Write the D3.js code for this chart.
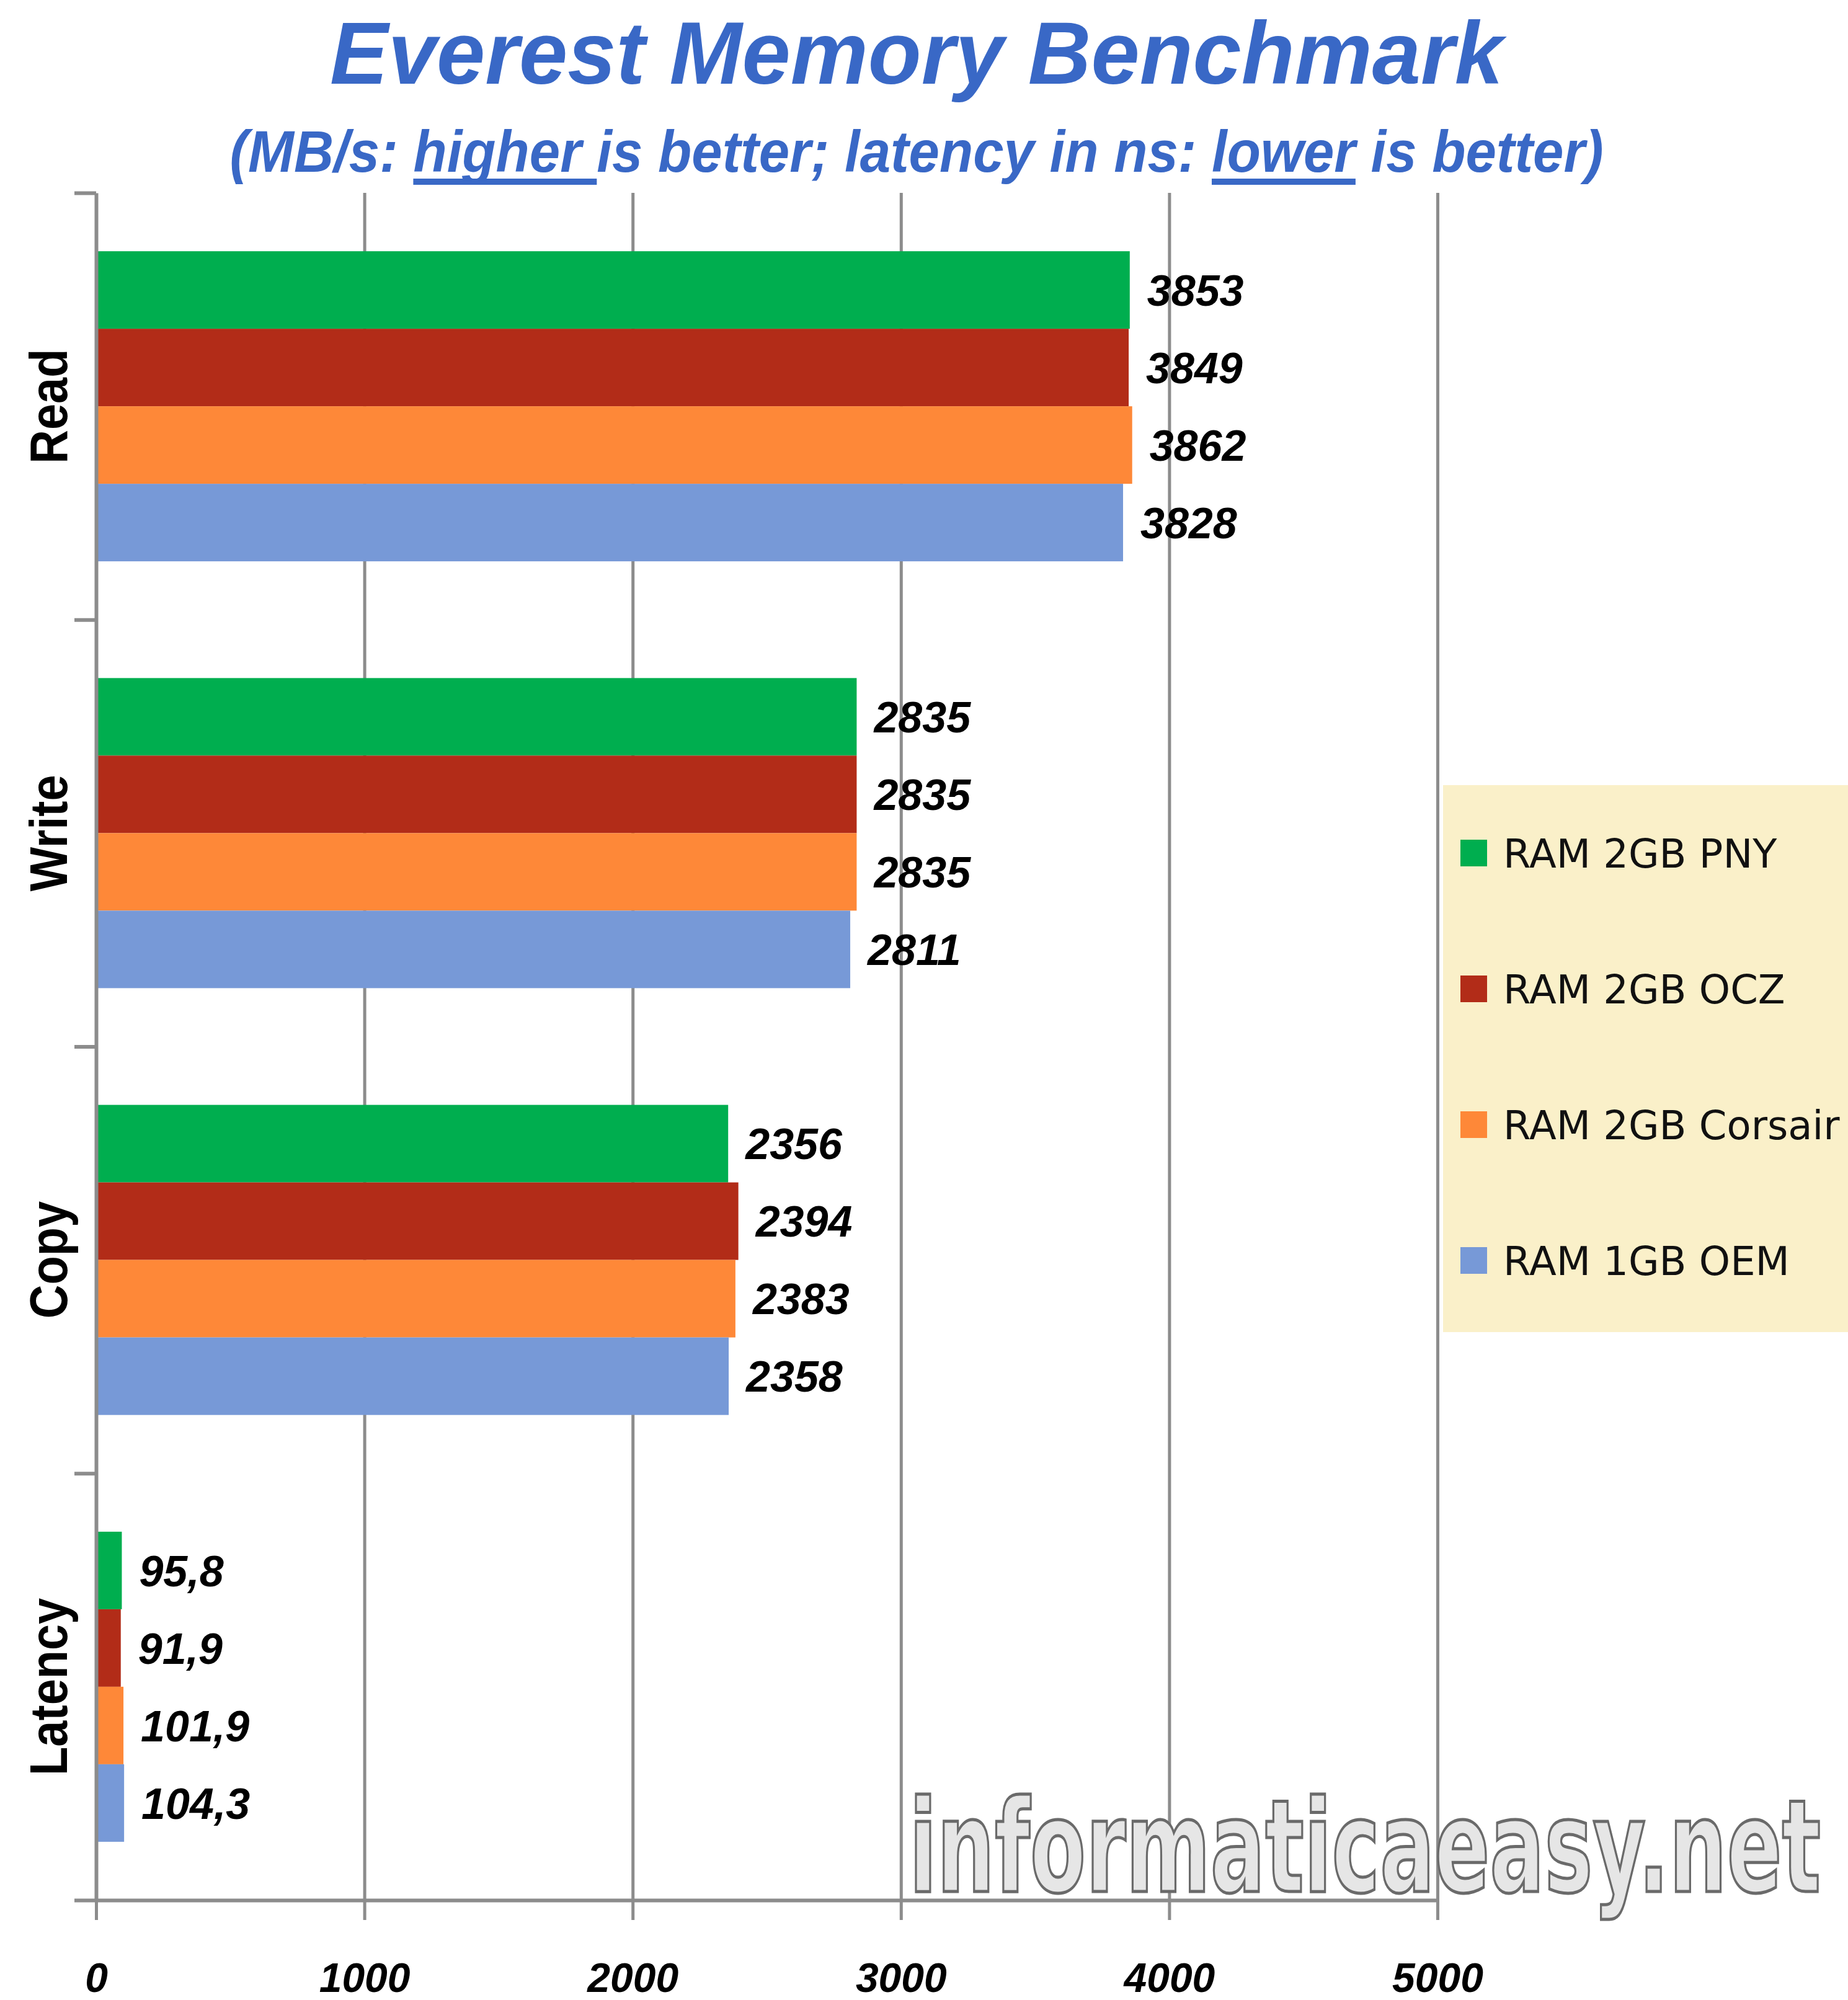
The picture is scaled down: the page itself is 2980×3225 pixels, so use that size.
<!DOCTYPE html>
<html>
<head>
<meta charset="utf-8">
<script src="https://cdn.jsdelivr.net/npm/d3@7"></script>
<style>
  body { margin: 0; background: #fff; }
  svg { display: block; }
</style>
</head>
<body>
<div id="chart"></div>
<script>
const categories = ["Read", "Write", "Copy", "Latency"];
const seriesNames = ["RAM 2GB PNY", "RAM 2GB OCZ", "RAM 2GB Corsair", "RAM 1GB OEM"];
const pnyValues = [3853, 2835, 2356, 95.8];
const oczValues = [3849, 2835, 2394, 91.9];
const corsairValues = [3862, 2835, 2383, 101.9];
const oemValues = [3828, 2811, 2358, 104.3];
const xTicks = [0, 1000, 2000, 3000, 4000, 5000];

const colors = ["#00AE4F", "#B22C18", "#FE8838", "#7799D7"];
const series = [pnyValues, oczValues, corsairValues, oemValues];

const svgWidth = 2980, svgHeight = 3225;
const plotLeft = 155, plotRight = 2318, plotTop = 311, plotBottom = 3064;
const gray = "#8C8C8C";
const blue = "#3968C6";
const sans = "'Liberation Sans', Arial, sans-serif";

const svg = d3.select("#chart")
    .append("svg")
    .attr("width", svgWidth)
    .attr("height", svgHeight);

svg.append("rect").attr("width", svgWidth).attr("height", svgHeight).attr("fill", "#fff");

// squeeze text a bit so it looks like the narrow office font
function condense(sel, k) {
    sel.each(function() {
        const len = this.getComputedTextLength();
        d3.select(this).attr("textLength", len * k).attr("lengthAdjust", "spacingAndGlyphs");
    });
}

const x = d3.scaleLinear().domain([0, 5000]).range([plotLeft, plotRight]);
const y0 = d3.scaleBand()
    .domain(categories)
    .range([plotTop, plotBottom])
    .paddingInner(0.2735)
    .paddingOuter(0.13675);
const y1 = d3.scaleBand()
    .domain(d3.range(series.length))
    .range([0, y0.bandwidth()]);

// title
svg.append("text")
    .attr("x", 1478).attr("y", 135)
    .attr("text-anchor", "middle")
    .attr("font-family", sans)
    .attr("font-weight", "bold")
    .attr("font-style", "italic")
    .attr("font-size", 142)
    .attr("fill", blue)
    .attr("textLength", 1892)
    .attr("lengthAdjust", "spacingAndGlyphs")
    .text("Everest Memory Benchmark");

const subText = "(MB/s: higher is better; latency in ns: lower is better)";
const sub = svg.append("text")
    .attr("x", 1478).attr("y", 277)
    .attr("text-anchor", "middle")
    .attr("font-family", sans)
    .attr("font-weight", "bold")
    .attr("font-style", "italic")
    .attr("font-size", 94)
    .attr("fill", blue)
    .attr("textLength", 2215)
    .attr("lengthAdjust", "spacingAndGlyphs")
    .text(subText);
// underlined words ("higher " keeps its trailing space, like the original)
["higher ", "lower"].forEach(w => {
    const a = subText.indexOf(w);
    const b = a + w.length - 1;
    const s = sub.node().getExtentOfChar(a);
    const e = sub.node().getExtentOfChar(b);
    svg.append("rect")
        .attr("x", s.x)
        .attr("y", 288)
        .attr("width", e.x + e.width - s.x)
        .attr("height", 10)
        .attr("fill", blue);
});

// vertical gridlines
const grid = svg.append("g")
    .attr("transform", `translate(0,${plotBottom})`)
    .call(d3.axisBottom(x).tickValues(xTicks.slice(1)).tickSize(-(plotBottom - plotTop)).tickFormat(""));
grid.select(".domain").remove();
grid.selectAll("line").attr("stroke", gray).attr("stroke-width", 5);

// bars
const groups = svg.append("g")
    .selectAll("g")
    .data(categories)
    .enter()
    .append("g")
    .attr("transform", c => `translate(0,${y0(c)})`);

groups.selectAll("rect")
    .data((c, ci) => series.map((s, i) => ({ i: i, v: s[ci] })))
    .enter()
    .append("rect")
    .attr("x", x(0))
    .attr("y", d => y1(d.i))
    .attr("width", d => x(d.v) - x(0))
    .attr("height", y1.bandwidth())
    .attr("fill", d => colors[d.i]);

groups.selectAll("text")
    .data((c, ci) => series.map((s, i) => ({ i: i, v: s[ci] })))
    .enter()
    .append("text")
    .attr("x", d => x(d.v) + 28)
    .attr("y", d => y1(d.i) + y1.bandwidth() / 2)
    .attr("dy", "0.36em")
    .attr("font-family", sans)
    .attr("font-weight", "bold")
    .attr("font-style", "italic")
    .attr("font-size", 70)
    .attr("fill", "#000")
    .text(d => String(d.v).replace(".", ","));

// left axis, ticks between categories
const yTick = d3.scaleLinear().domain([0, categories.length]).range([plotTop, plotBottom]);
const yAxis = svg.append("g")
    .attr("transform", `translate(${plotLeft},0)`)
    .call(d3.axisLeft(yTick).tickValues(d3.range(categories.length + 1)).tickSize(35).tickSizeOuter(0).tickFormat(""));
yAxis.select(".domain").attr("stroke", gray).attr("stroke-width", 6);
yAxis.selectAll("line").attr("stroke", gray).attr("stroke-width", 6);

svg.append("g")
    .selectAll("text")
    .data(categories)
    .enter()
    .append("text")
    .attr("transform", c => `translate(108,${y0(c) + y0.bandwidth() / 2}) rotate(-90)`)
    .attr("text-anchor", "middle")
    .attr("font-family", sans)
    .attr("font-weight", "bold")
    .attr("font-size", 86)
    .attr("fill", "#000")
    .text(c => c)
    .call(condense, 0.88);

// bottom axis
const xAxis = svg.append("g")
    .attr("transform", `translate(0,${plotBottom})`)
    .call(d3.axisBottom(x).tickValues(xTicks).tickSize(32).tickSizeOuter(0).tickFormat(d => d));
xAxis.select(".domain").attr("stroke", gray).attr("stroke-width", 6);
xAxis.selectAll("line").attr("stroke", gray).attr("stroke-width", 5);
xAxis.selectAll("text")
    .attr("y", 3212 - plotBottom)
    .attr("dy", 0)
    .attr("font-family", sans)
    .attr("font-weight", "bold")
    .attr("font-style", "italic")
    .attr("font-size", 66)
    .attr("fill", "#000");

// legend
const legend = svg.append("g").attr("transform", "translate(2327,1266)");
legend.append("rect")
    .attr("width", 653)
    .attr("height", 882)
    .attr("fill", "#FAF0C9");
const items = legend.selectAll("g.item")
    .data(seriesNames)
    .enter()
    .append("g")
    .attr("class", "item")
    .attr("transform", (d, i) => `translate(0,${110 + i * 219})`);
items.append("rect")
    .attr("x", 28).attr("y", -22)
    .attr("width", 43).attr("height", 43)
    .attr("fill", (d, i) => colors[i]);
items.append("text")
    .attr("x", 97)
    .attr("dy", "0.36em")
    .attr("font-family", "'DejaVu Sans', sans-serif")
    .attr("font-size", 64)
    .attr("fill", "#111")
    .text(d => d);

// watermark
svg.append("text")
    .attr("x", 1466).attr("y", 3050)
    .attr("font-family", "'DejaVu Sans', sans-serif")
    .attr("font-weight", "bold")
    .attr("font-size", 206)
    .attr("fill", "#e6e6e6")
    .attr("stroke", "#6a6a6a")
    .attr("stroke-width", 5)
    .attr("textLength", 1470)
    .attr("lengthAdjust", "spacingAndGlyphs")
    .text("informaticaeasy.net");
</script>
</body>
</html>
